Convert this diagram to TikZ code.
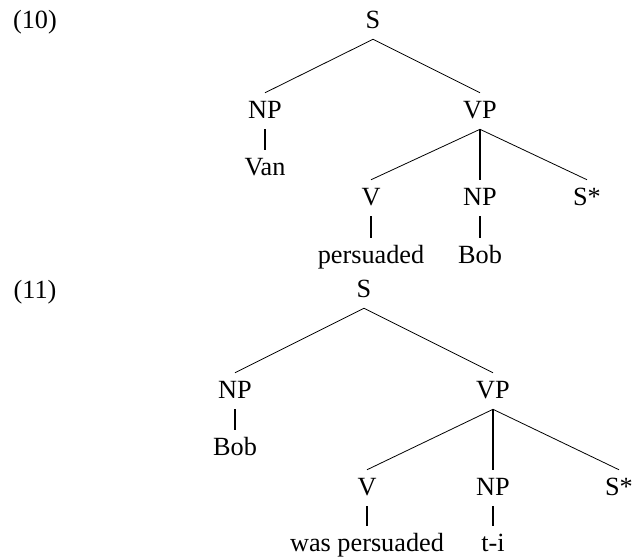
\documentclass[tikz,border=0pt]{standalone}
\usepackage{fontspec}
\setmainfont{Liberation Serif}
\begin{document}
\begin{tikzpicture}[x=0.75pt,y=-0.75pt,
  cat/.style={inner xsep=1pt,inner ysep=0pt,text height=19.1pt,text depth=7.9pt,anchor=base,
    font=\fontsize{19.7}{23}\selectfont},
  exlabel/.style={anchor=base,inner sep=0pt,font=\fontsize{19.7}{23}\selectfont},
  branch/.style={line width=0.6pt},
  stem/.style={line width=1pt},
  stemthick/.style={line width=1.5pt}]
\useasboundingbox (0,0) rectangle (635,559);

% ---- example (10)
\node[exlabel] (ex10) at (35,28.5) {(10)};
\node[cat] (s1) at (373,28.5) {S};
\node[cat] (np1) at (265,118.5) {NP};
\node[cat] (vp1) at (480,118.5) {VP};
\node[cat] (van) at (265,175.5) {Van};
\node[cat] (v1) at (371,205.5) {V};
\node[cat] (npb1) at (480,205.5) {NP};
\node[cat] (sst1) at (587,205.5) {S*};
\node[cat] (pers) at (371,263.5) {persuaded};
\node[cat] (bob1) at (480,263.5) {Bob};

\draw[branch] (s1.south) -- (np1.north);
\draw[branch] (s1.south) -- (vp1.north);
\draw[stemthick] (np1.south) -- (van.north);
\draw[branch] (vp1.south) -- (v1.north);
\draw[stem] (vp1.south) -- (npb1.north);
\draw[branch] (vp1.south) -- (sst1.north);
\draw[stemthick] (v1.south) -- (pers.north);
\draw[stem] (npb1.south) -- (bob1.north);

% ---- example (11)
\node[exlabel] (ex11) at (35,298.5) {(11)};
\node[cat] (s2) at (364,297.5) {S};
\node[cat] (np2) at (235,398.5) {NP};
\node[cat] (vp2) at (493,398.5) {VP};
\node[cat] (bob2) at (235,455.5) {Bob};
\node[cat] (v2) at (367,495.5) {V};
\node[cat] (npt) at (493,495.5) {NP};
\node[cat] (sst2) at (619,495.5) {S*};
\node[cat] (waspers) at (367,551.5) {was persuaded};
\node[cat] (trace) at (493,551.5) {t-i};

\draw[branch] (s2.south) -- (np2.north);
\draw[branch] (s2.south) -- (vp2.north);
\draw[stemthick] (np2.south) -- (bob2.north);
\draw[branch] (vp2.south) -- (v2.north);
\draw[stem] (vp2.south) -- (npt.north);
\draw[branch] (vp2.south) -- (sst2.north);
\draw[stemthick] (v2.south) -- (waspers.north);
\draw[stem] (npt.south) -- (trace.north);
\end{tikzpicture}
\end{document}
